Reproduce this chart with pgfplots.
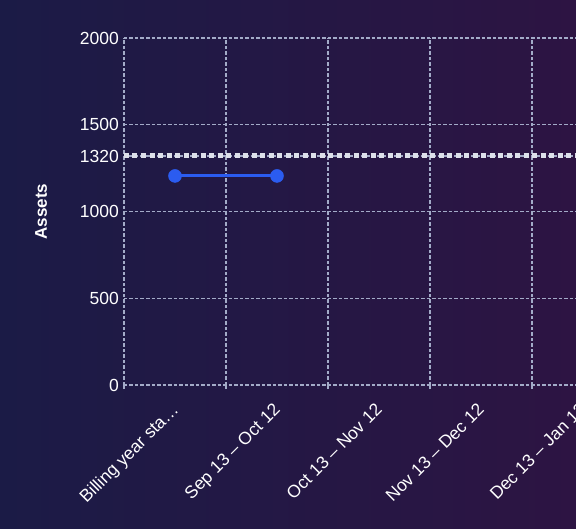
\documentclass[border=0pt]{standalone}
\usepackage{pgfplots}
\pgfplotsset{compat=1.18}
\usepackage{fontspec}
\setmainfont{Liberation Sans}
\definecolor{bgl}{HTML}{1B1B46}
\definecolor{bgr}{HTML}{2D1443}
\definecolor{gridc}{HTML}{A3ABC8}
\definecolor{dotc}{HTML}{DDE0EA}
\definecolor{blueline}{HTML}{2B5CF0}
\begin{document}
\begin{tikzpicture}
\useasboundingbox (0pt,0pt) rectangle (576pt,528pt);
\clip (0pt,0pt) rectangle (576pt,528pt);
\shade[left color=bgl, right color=bgr] (0pt,0pt) rectangle (576pt,528pt);
\begin{axis}[
  at={(124pt,143pt)}, anchor=south west,
  scale only axis, width=612pt, height=347pt,
  xmin=-0.5, xmax=5.5, ymin=0, ymax=2000,
  axis line style={draw=none},
  xtick={0,1,2,3,4,5},
  xticklabels={{Billing year sta…}, {Sep 13 – Oct 12}, {Oct 13 – Nov 12}, {Nov 13 – Dec 12}, {Dec 13 – Jan 12}, {Jan 13 – Feb 12}},
  minor xtick={-0.5,0.5,1.5,2.5,3.5,4.5,5.5},
  ytick={0,500,1000,1320,1500,2000},
  yticklabels={0,500,1000,1320,1500,2000},
  xmajorgrids=false, xminorgrids=true, ymajorgrids=true,
  grid style={gridc, line width=1.2pt, dash pattern=on 3.5pt off 2pt},
  minor grid style={gridc, line width=1.2pt, dash pattern=on 3.5pt off 2pt},
  major tick length=0pt, minor tick length=4pt, tick align=outside,
  xtick pos=bottom, ytick pos=left,
  minor tick style={gridc, line width=1.2pt},
  tick label style={white, font=\fontsize{17.5}{20}\selectfont},
  xticklabel style={xshift=-4.5pt, yshift=-14pt, rotate=45, anchor=north east, inner sep=2pt},
  yticklabel style={inner sep=2pt, xshift=-3pt},
  ylabel={Assets},
  every axis y label/.style={at={(axis description cs:-0.1356,0.5)}, rotate=90, anchor=center, white, font=\fontsize{17}{20}\selectfont\bfseries},
  clip=false,
]
\addplot[dotc, line width=5pt, dash pattern=on 5pt off 3.5pt] coordinates {(-0.5,1320) (5.5,1320)};
\addplot[blueline, line width=3pt, mark=*, mark size=6.5pt, mark options={fill=blueline, draw=blueline, line width=0.5pt}] coordinates {(0,1205) (1,1205)};
\end{axis}
\end{tikzpicture}
\end{document}
